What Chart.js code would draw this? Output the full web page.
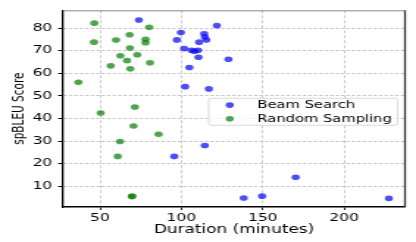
<!DOCTYPE html>
<html>
<head>
<meta charset="utf-8">
<script src="https://cdn.jsdelivr.net/npm/chart.js@4.4.0/dist/chart.umd.min.js"></script>
<style>
    body { margin: 0; background: #fff; overflow: hidden; }
    /* the original figure is stretched sideways, so draw narrow and scale x */
    #wrap { width: 283px; height: 242px; transform: scaleX(1.47); transform-origin: 0 0; }
</style>
</head>
<body>
<div id="wrap"><canvas id="ScatterChart"></canvas></div>
<script>
var beamDuration = [73.9, 99.7, 97.2, 114, 114.4, 115.4, 110.9, 121.8, 101.7, 106.2, 110.3, 108, 110.5, 128.9, 104.9, 102.3, 116.9, 114.4, 95.6, 170.2, 138.3, 149.6, 227.5];
var beamScore = [83.6, 78.1, 74.8, 77.5, 76.1, 74.7, 73.8, 81.1, 71, 70.2, 70.2, 69.8, 67.1, 66.2, 62.6, 54.1, 53.1, 28, 23.2, 14, 4.8, 5.6, 4.6];

var samplingDuration = [46.5, 46.3, 36.7, 59.8, 68.2, 68.4, 80.2, 78, 78, 62.5, 66.6, 72.9, 56.6, 68.6, 80.7, 50.4, 71.4, 70.6, 86, 62.3, 60.9, 69.8, 69.5];
var samplingScore = [82.2, 73.8, 56, 74.7, 77.1, 71.2, 80.4, 75.1, 73.5, 67.8, 65.6, 68.2, 63.3, 62, 64.7, 42.4, 45.1, 36.7, 33, 29.8, 23.2, 5.6, 5.4];

var seriesNames = ['Beam Search', 'Random Sampling'];
var xTicks = [50, 100, 150, 200];
var yTicks = [10, 20, 30, 40, 50, 60, 70, 80];

function toPoints(xs, ys) {
    return xs.map(function (x, i) { return { x: x, y: ys[i] }; });
}

var font = 'DejaVu Sans';

// matplotlib style legend box in upper part of the plot
var boxLegend = {
    id: 'boxLegend',
    afterDraw: function (chart) {
        var ctx = chart.ctx;
        var area = chart.chartArea;
        var left = area.right - 133.5, top = area.top + 88, w = 128.5, h = 27;
        ctx.save();
        ctx.fillStyle = 'rgba(255,255,255,0.8)';
        ctx.strokeStyle = '#d0d0d0';
        ctx.lineWidth = 0.8;
        ctx.beginPath();
        ctx.roundRect(left, top, w, h, 2);
        ctx.fill();
        ctx.stroke();
        ctx.font = '10px "' + font + '"';
        ctx.textBaseline = 'middle';
        chart.data.datasets.forEach(function (ds, i) {
            var y = top + 6.8 + i * 13.6;
            ctx.fillStyle = ds.backgroundColor;
            ctx.beginPath();
            ctx.arc(left + 14.3, y, 2.8, 0, Math.PI * 2);
            ctx.fill();
            ctx.fillStyle = '#000';
            ctx.fillText(ds.label, left + 33.1, y + 0.5);
        });
        ctx.restore();
    }
};

// top and right spines
var spines = {
    id: 'spines',
    afterDraw: function (chart) {
        var ctx = chart.ctx;
        var a = chart.chartArea;
        ctx.save();
        ctx.strokeStyle = '#8a8a8a';
        ctx.lineWidth = 1;
        ctx.beginPath();
        ctx.moveTo(a.left, a.top + 0.5);
        ctx.lineTo(a.right, a.top + 0.5);
        ctx.stroke();
        ctx.strokeStyle = '#333';
        ctx.lineWidth = 1.3;
        ctx.beginPath();
        ctx.moveTo(a.right, a.top);
        ctx.lineTo(a.right, a.bottom);
        ctx.stroke();
        ctx.restore();
    }
};

const ctx = document.getElementById('ScatterChart');
new Chart(ctx, {
    type: 'scatter',
    data: {
        datasets: [{
            label: seriesNames[0],
            data: toPoints(beamDuration, beamScore),
            backgroundColor: 'rgba(0,0,255,0.7)',
            borderWidth: 0,
            pointRadius: 2.8,
            order: 1
        }, {
            label: seriesNames[1],
            data: toPoints(samplingDuration, samplingScore),
            backgroundColor: 'rgba(0,128,0,0.7)',
            borderWidth: 0,
            pointRadius: 2.8,
            order: 0
        }]
    },
    options: {
        responsive: true,
        maintainAspectRatio: false,
        animation: false,
        events: [],
        layout: { padding: { top: 5, right: 7.5, left: 0, bottom: 0 } },
        plugins: {
            legend: { display: false },
            tooltip: { enabled: false }
        },
        scales: {
            x: {
                type: 'linear',
                min: 27.3,
                max: 237.4,
                afterBuildTicks: function (s) { s.ticks = xTicks.map(function (v) { return { value: v }; }); },
                afterFit: function (s) { s.height = 35; },
                ticks: { color: '#000', font: { family: font, size: 10.5 }, padding: 2, maxRotation: 0 },
                grid: { color: '#c4c4c4', lineWidth: 0.9, tickColor: '#000', tickLength: 3 },
                border: { color: '#000', width: 1.5, dash: [3, 2] },
                title: {
                    display: true,
                    text: 'Duration (minutes)',
                    color: '#000',
                    font: { family: font, size: 11.5 },
                    padding: { top: 0, bottom: 5 }
                }
            },
            y: {
                min: 0.8,
                max: 87.9,
                afterBuildTicks: function (s) { s.ticks = yTicks.map(function (v) { return { value: v }; }); },
                afterFit: function (s) { s.width = 42.9; },
                ticks: { color: '#000', font: { family: font, size: 10.5 }, padding: 4 },
                grid: { color: '#c4c4c4', lineWidth: 1, tickColor: '#000', tickLength: 3.4 },
                border: { color: '#000', width: 1.3, dash: [2.2, 1.5] },
                title: {
                    display: true,
                    text: 'spBLEU Score',
                    color: '#000',
                    font: { family: font, size: 10.5 },
                    padding: { top: 7, bottom: 0 }
                }
            }
        }
    },
    plugins: [spines, boxLegend]
});
</script>
</body>
</html>
